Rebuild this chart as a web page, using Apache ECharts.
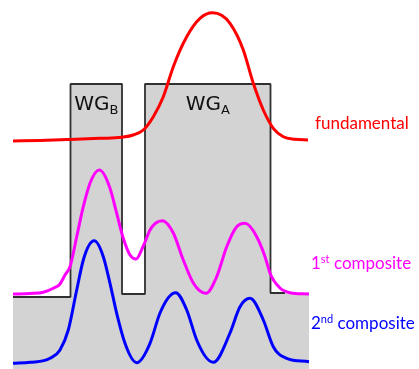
<!DOCTYPE html>
<html>
<head>
<meta charset="utf-8">
<script src="https://cdn.jsdelivr.net/npm/echarts@6/dist/echarts.min.js"></script>
<style>
  html, body { margin: 0; padding: 0; background: #ffffff; }
  #chart { width: 419px; height: 369px; }
</style>
</head>
<body>
<div id="chart"></div>
<script>
// Refractive-index profile of the coupled guides (position, height), traced as an outline.
const indexProfile = [
  [0, 72], [57.5, 72], [57.5, 285], [109, 285], [109, 75], [132, 75],
  [132, 285], [257.5, 285], [257.5, 76], [272, 76]
];
// Cladding step continues (without outline) to the end of the window.
const claddingEnd = [296, 76];

// Mode profiles, each drawn above its own offset baseline.
const fundamental = [
  [0, 228], [27, 228.5], [57, 229.5], [87, 230.7], [108.7, 231.7], [120.3, 234],
  [130.3, 239], [140.3, 252.3], [150.3, 272.3], [160.3, 302.3], [173.7, 332.3],
  [187, 350.7], [199.5, 356.3], [217, 345.7], [230.3, 319], [240.3, 285.7],
  [250.3, 259], [260.3, 240.7], [270.3, 232.3], [282, 229.7], [295, 229]
];
const composite1 = [
  [0, 75], [17, 75.5], [30.3, 76.7], [40.3, 80.7], [47, 85], [52, 94], [57, 102.3],
  [63.7, 132.3], [70.3, 162.3], [77, 185.7], [86.3, 199], [97, 180.7], [103.7, 155.7],
  [110.3, 130.7], [117, 114], [123, 110], [130.3, 123], [137, 139], [149.3, 148.3],
  [160.3, 136], [170.3, 109], [180.3, 86], [193, 75.7], [203.7, 92.3], [213.7, 122.3],
  [223.7, 142.3], [232, 145.7], [243.7, 132.3], [252, 112.3], [257, 96], [267, 81],
  [277, 76.3], [296, 75]
];
const composite2 = [
  [0, 5.7], [17, 6.7], [37, 10.7], [47, 19], [55.3, 39], [63.7, 79], [70.3, 109],
  [81.3, 128.3], [90.3, 112.3], [97, 85.7], [103.7, 55.7], [112, 25.7], [123.7, 6.3],
  [137, 25.7], [147, 56], [162.7, 76.3], [173.7, 59], [183.7, 29], [200.3, 6.7],
  [217, 36], [227, 62.3], [237, 70.7], [250.3, 49], [260.3, 22.3], [273.7, 10.7],
  [296, 7.3]
];

// Guide names and the centre/top of each guide core.
const guideNames = ['B', 'A'];
const guideAnchors = [[83.25, 285], [194.75, 285]];

const chart = echarts.init(document.getElementById('chart'), null, { renderer: 'canvas' });

// Smooth cubic path through the projected points; flat tangents at extrema,
// Fritsch-Carlson bound elsewhere so the flat tails never overshoot.
function smoothPath(pts) {
  const n = pts.length;
  const h = [], d = [];
  for (let i = 0; i < n - 1; i++) {
    h.push(pts[i + 1][0] - pts[i][0]);
    d.push((pts[i + 1][1] - pts[i][1]) / h[i]);
  }
  const m = new Array(n);
  m[0] = d[0];
  m[n - 1] = d[n - 2];
  for (let i = 1; i < n - 1; i++) {
    if (d[i - 1] * d[i] <= 0) { m[i] = 0; continue; }
    const p = (d[i - 1] * h[i] + d[i] * h[i - 1]) / (h[i - 1] + h[i]);
    const lim = 3 * Math.min(Math.abs(d[i - 1]), Math.abs(d[i]));
    m[i] = Math.sign(p) * Math.min(Math.abs(p), lim);
  }
  let path = 'M' + pts[0][0] + ' ' + pts[0][1];
  for (let i = 0; i < n - 1; i++) {
    const t = h[i] / 3;
    path += ' C' + (pts[i][0] + t) + ' ' + (pts[i][1] + m[i] * t) + ' ' +
      (pts[i + 1][0] - t) + ' ' + (pts[i + 1][1] - m[i + 1] * t) + ' ' +
      pts[i + 1][0] + ' ' + pts[i + 1][1];
  }
  return path;
}

const labelFont = 'Lato';
function modeSeries(name, data, color, labelText, offset) {
  return {
    type: 'custom',
    name: name,
    coordinateSystem: 'cartesian2d',
    data: data,
    silent: true,
    z: 5,
    renderItem: function (params, api) {
      if (params.dataIndex !== 0) return null;
      const pts = data.map(function (v) { return api.coord(v); });
      const end = pts[pts.length - 1];
      return {
        type: 'group',
        children: [
          {
            type: 'path',
            shape: { pathData: smoothPath(pts) },
            style: { fill: 'none', stroke: color, lineWidth: 3, lineJoin: 'round', lineCap: 'butt' }
          },
          {
            type: 'text',
            x: end[0] + offset[0],
            y: end[1] + offset[1],
            style: {
              text: labelText,
              fill: color,
              align: 'left',
              verticalAlign: 'middle',
              fontFamily: labelFont,
              fontSize: 17,
              rich: {
                n: { fill: color, fontFamily: labelFont, fontSize: 17, lineHeight: 20 },
                sup: { fill: color, fontFamily: labelFont, fontSize: 11, lineHeight: 20, verticalAlign: 'top' }
              }
            }
          }
        ]
      };
    }
  };
}

chart.setOption({
  animation: false,
  grid: { left: 13, right: 110, top: 0, bottom: 0 },
  xAxis: { type: 'value', min: 0, max: 296, show: false },
  yAxis: { type: 'value', min: 0, max: 369, show: false },
  series: [
    {
      type: 'line', data: indexProfile.concat([claddingEnd]), symbol: 'none', silent: true, z: 1,
      lineStyle: { width: 0 }, areaStyle: { color: '#d3d3d3', opacity: 1 }
    },
    {
      type: 'line', data: indexProfile, symbol: 'none', silent: true, z: 2,
      lineStyle: { color: '#303030', width: 1.8 }
    },
    modeSeries('fundamental', fundamental, '#ff0000', '{n|fundamental}', [7, -16]),
    modeSeries('1st composite', composite1, '#ff00ff', '{n|1}{sup|st}{n| composite}', [2, -30]),
    modeSeries('2nd composite', composite2, '#0000ff', '{n|2}{sup|nd}{n| composite}', [2, -38])
  ]
});

// Guide labels (WG with subscript) centred in each guide core.
const graphics = guideNames.map(function (name, i) {
  const p = chart.convertToPixel({ gridIndex: 0 }, guideAnchors[i]);
  return {
    type: 'text',
    x: p[0],
    y: p[1] + 9,
    z: 10,
    style: {
      text: '{m|WG}{s|' + name + '}',
      align: 'center',
      verticalAlign: 'top',
      rich: {
        m: { fontFamily: 'DejaVu Sans', fontSize: 20, lineHeight: 24, fill: '#111111' },
        s: { fontFamily: 'DejaVu Sans', fontSize: 13, lineHeight: 24, fill: '#111111', verticalAlign: 'bottom' }
      }
    }
  };
});
chart.setOption({ graphic: graphics });
</script>
</body>
</html>
